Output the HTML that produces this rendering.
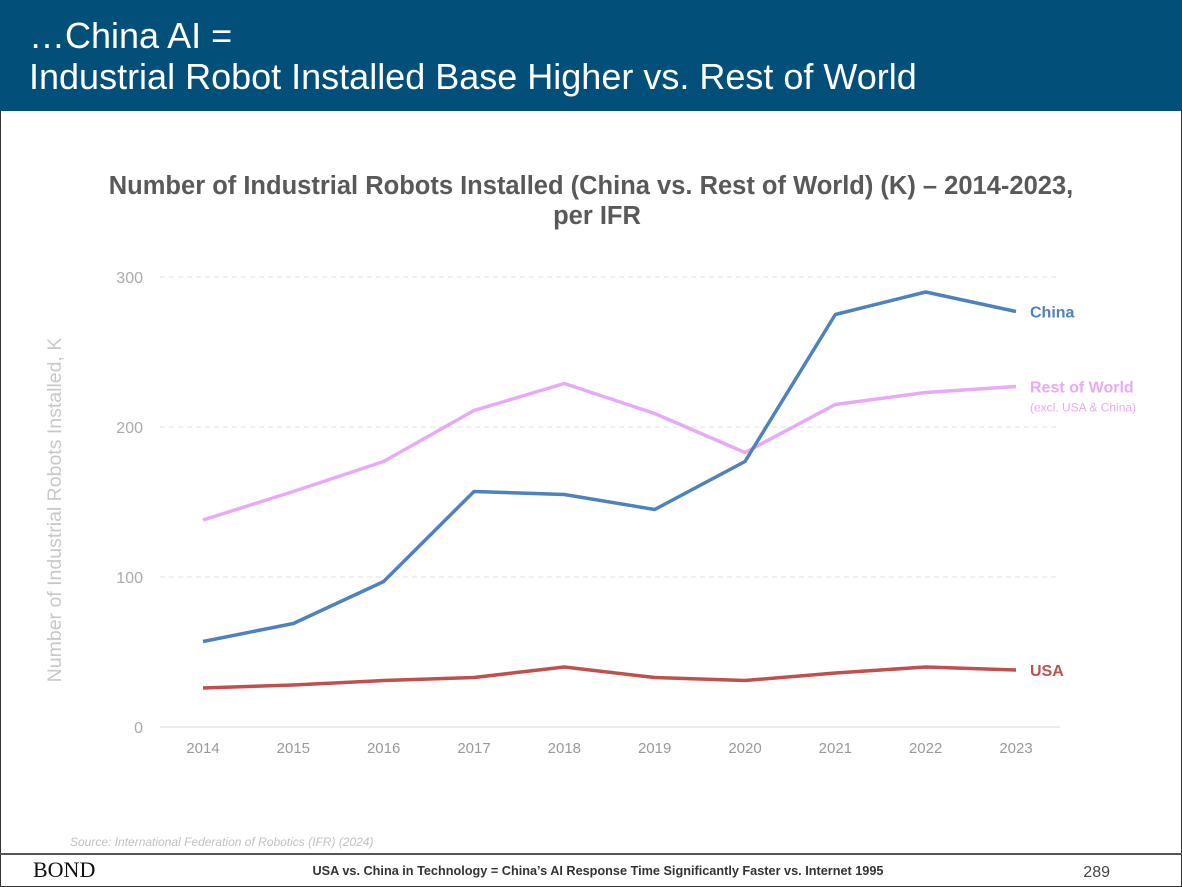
<!DOCTYPE html>
<html><head><meta charset="utf-8">
<style>
body{margin:0;width:1182px;height:887px;overflow:hidden;background:#fff;font-family:"Liberation Sans",Arial,sans-serif;position:relative}
#frame{position:absolute;left:0;top:0;width:1180px;height:885px;border:1px solid #333;}
#header{position:absolute;left:0;top:0;width:1182px;height:111px;background:#02507a;color:#fff}
#header div{position:absolute;left:29px;font-size:36px;line-height:40px}
#footline{position:absolute;left:0;top:853px;width:1182px;height:2px;background:#555}
</style></head><body>
<div id="frame"></div>
<div id="header">
<div style="top:16px">…China AI =</div>
<div style="top:57px">Industrial Robot Installed Base Higher vs. Rest of World</div>
</div>
<svg id="chart" width="1182" height="887" style="position:absolute;left:0;top:0">
<text x="591" y="194" text-anchor="middle" font-size="25.5" font-weight="bold" fill="#595959">Number of Industrial Robots Installed (China vs. Rest of World) (K) – 2014-2023,</text>
<text x="597" y="224" text-anchor="middle" font-size="25.5" font-weight="bold" fill="#595959">per IFR</text>
<text transform="translate(61,510) rotate(-90)" text-anchor="middle" font-size="19.5" fill="#c8c8c8">Number of Industrial Robots Installed, K</text>
<g id="grid"></g><g id="series"></g>
<text x="70" y="846" font-size="12" font-style="italic" fill="#c0c0c0">Source: International Federation of Robotics (IFR) (2024)</text>
<text x="33" y="877" font-size="22" font-family="Liberation Serif,serif" fill="#111">BOND</text>
<text x="598" y="875" text-anchor="middle" font-size="12.7" font-weight="bold" fill="#333">USA vs. China in Technology = China’s AI Response Time Significantly Faster vs. Internet 1995</text>
<text x="1110" y="877" text-anchor="end" font-size="16" fill="#444">289</text>
</svg>
<div id="footline"></div>
<script>
const years=[2014,2015,2016,2017,2018,2019,2020,2021,2022,2023];
const china=[57,69,97,157,155,145,177,275,290,277];
const row=[138,157,177,211,229,209,183,215,223,227];
const usa=[26,28,31,33,40,33,31,36,40,38];
const yTicks=[0,100,200,300];
const NS="http://www.w3.org/2000/svg";
const x=i=>203+i*(1016-203)/9;
const y=v=>727-v*1.5;
const grid=document.getElementById('grid'),ser=document.getElementById('series');
function mk(p,tag,attrs){const e=document.createElementNS(NS,tag);for(const k in attrs)e.setAttribute(k,attrs[k]);p.appendChild(e);return e;}
yTicks.forEach(t=>{
 const l=mk(grid,'line',{x1:160,x2:1060,y1:y(t),y2:y(t),stroke:t===0?'#d9d9d9':'#e0e0e0','stroke-dasharray':t===0?'none':'5,4'});
 
 
 const tx=mk(grid,'text',{x:143,y:y(t)+6,'text-anchor':'end','font-size':16,fill:'#aaa'});tx.textContent=t;
 
 
});
years.forEach((yr,i)=>{
 const tx=mk(grid,'text',{x:x(i),y:753,'text-anchor':'middle','font-size':15,fill:'#999'});tx.textContent=yr;
 
 
});
function line(d,c,name){
 const p=mk(ser,'polyline',{points:d.map((v,i)=>x(i)+','+y(v)).join(' '),fill:'none',stroke:c,'stroke-width':3.5,'stroke-linejoin':'round'});
 
 
}
line(row,'#e8aaf6','rest-of-world-line');
line(usa,'#c0504d','usa-line');
line(china,'#4f81bd','china-line');
const n=years.length-1;
function lab(txt,v,dy,c,size,w,name){const t=mk(ser,'text',{x:1030,y:y(v)+dy,'font-size':size,'font-weight':w,fill:c});t.textContent=txt;
 
 }
lab('China',china[n],6,'#4f81bd',16,'bold','china-label');
lab('Rest of World',row[n],6,'#e8aaf6',16,'bold','row-label');
lab('(excl. USA & China)',row[n],25,'#e8aaf6',12,'normal','row-sublabel');
lab('USA',usa[n],6,'#c0504d',16,'bold','usa-label');
</script>
</body></html>
